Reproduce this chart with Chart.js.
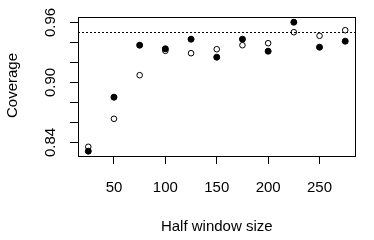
<!DOCTYPE html>
<html>
<head>
<meta charset="utf-8">
<script src="https://cdn.jsdelivr.net/npm/chart.js@4/dist/chart.umd.min.js"></script>
<style>
  html, body { margin: 0; padding: 0; background: #fff; }
  #wrap { width: 374px; height: 240px; position: relative; }
</style>
</head>
<body>
<div id="wrap"><canvas id="chart"></canvas></div>
<script>
  const windowSizes = [25, 50, 75, 100, 125, 150, 175, 200, 225, 250, 275];
  const coverageFilled = [0.8313, 0.8853, 0.9373, 0.9337, 0.9433, 0.9253, 0.9433, 0.9313, 0.9603, 0.9353, 0.9413];
  const coverageOpen = [0.8357, 0.8637, 0.9073, 0.9317, 0.9293, 0.9333, 0.9373, 0.9393, 0.9503, 0.9467, 0.9523];
  const nominalLevel = 0.95;
  const xTicks = [50, 100, 150, 200, 250];
  const yTicks = [0.84, 0.86, 0.88, 0.90, 0.92, 0.94, 0.96];
  const yTickLabels = ['0.84', '0.90', '0.96'];
  const xTitle = 'Half window size';
  const yTitle = 'Coverage';

  const FONT = "15px 'Liberation Sans', Arial, sans-serif";

  // R-style box, dotted reference line and text labels
  const rPlot = {
    id: 'rPlot',
    afterDatasetsDraw(chart) {
      const { ctx, chartArea: a, scales } = chart;
      const x = scales.x, y = scales.y;
      ctx.save();
      ctx.strokeStyle = '#000';
      ctx.lineWidth = 1;

      // dotted line at nominal level
      const yn = Math.round(y.getPixelForValue(nominalLevel) - 0.5) + 0.5;
      ctx.setLineDash([2, 2]);
      ctx.beginPath();
      ctx.moveTo(a.left, yn);
      ctx.lineTo(a.right, yn);
      ctx.stroke();
      ctx.setLineDash([]);

      // box
      const l = Math.floor(a.left) + 0.5, r = Math.floor(a.right) + 0.5;
      const t = Math.floor(a.top) + 0.5, b = Math.floor(a.bottom) + 0.5;
      ctx.strokeRect(l, t, r - l, b - t);

      ctx.fillStyle = '#000';
      ctx.font = FONT;

      // x tick labels
      ctx.textAlign = 'center';
      ctx.textBaseline = 'alphabetic';
      xTicks.forEach((v) => ctx.fillText(String(v), x.getPixelForValue(v), 191.5));

      // x title
      ctx.fillText(xTitle, (a.left + a.right) / 2, 230.5);

      // y tick labels, rotated
      yTickLabels.forEach((s) => {
        ctx.save();
        ctx.translate(55, y.getPixelForValue(parseFloat(s)));
        ctx.rotate(-Math.PI / 2);
        ctx.fillText(s, 0, 0);
        ctx.restore();
      });

      // y title
      ctx.save();
      ctx.translate(16.5, (a.top + a.bottom) / 2 - 1);
      ctx.rotate(-Math.PI / 2);
      ctx.fillText(yTitle, 0, 0);
      ctx.restore();

      ctx.restore();
    }
  };

  new Chart(document.getElementById('chart'), {
    type: 'scatter',
    data: {
      datasets: [
        {
          label: 'filled',
          data: windowSizes.map((w, i) => ({ x: w, y: coverageFilled[i] })),
          backgroundColor: '#000',
          borderColor: '#000',
          borderWidth: 1,
          pointRadius: 3
        },
        {
          label: 'open',
          data: windowSizes.map((w, i) => ({ x: w, y: coverageOpen[i] })),
          backgroundColor: 'rgba(0,0,0,0)',
          borderColor: '#000',
          borderWidth: 1,
          pointRadius: 2.8
        }
      ]
    },
    options: {
      responsive: true,
      maintainAspectRatio: false,
      animation: false,
      layout: { padding: { left: 70, right: 18.5, top: 17, bottom: 76 } },
      plugins: { legend: { display: false }, tooltip: { enabled: false } },
      scales: {
        x: {
          type: 'linear',
          min: 15,
          max: 285,
          afterBuildTicks: (s) => { s.ticks = xTicks.map((v) => ({ value: v })); },
          ticks: { display: false },
          grid: { drawOnChartArea: false, drawTicks: true, tickLength: 8, color: '#000', tickColor: '#000' },
          border: { display: true, color: '#000', width: 1 }
        },
        y: {
          min: 0.8265,
          max: 0.9655,
          afterBuildTicks: (s) => { s.ticks = yTicks.map((v) => ({ value: v })); },
          ticks: { display: false },
          grid: { drawOnChartArea: false, drawTicks: true, tickLength: 8, color: '#000', tickColor: '#000' },
          border: { display: true, color: '#000', width: 1 }
        }
      }
    },
    plugins: [rPlot]
  });
</script>
</body>
</html>
